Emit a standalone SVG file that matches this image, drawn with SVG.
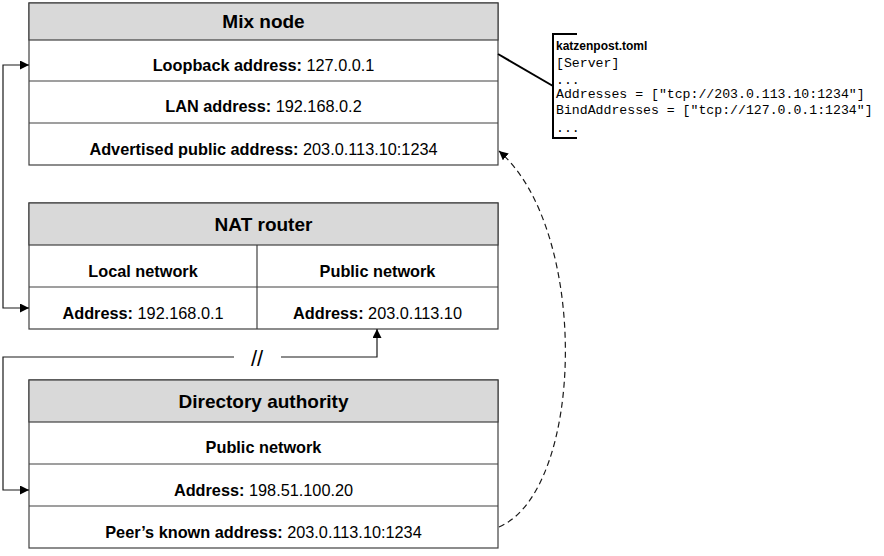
<svg xmlns="http://www.w3.org/2000/svg" width="884" height="556" viewBox="0 0 884 556">
<style>
.box{fill:#fff;stroke:#404040;stroke-width:1.2}
.hdr{fill:#d9d9d9;stroke:#404040;stroke-width:1.2}
.sep{stroke:#404040;stroke-width:1.2}
.t{font-family:"Liberation Sans",Arial,sans-serif;font-size:16.3px;fill:#000;text-anchor:middle}
.b{font-weight:bold}
.h{font-family:"Liberation Sans",Arial,sans-serif;font-size:19px;font-weight:bold;fill:#000;text-anchor:middle}
.conn{fill:none;stroke:#1a1a1a;stroke-width:1.2}
.mono{font-family:"Liberation Mono","Courier New",monospace;font-size:13.2px;fill:#000}
</style>
<defs>
<marker id="arr" viewBox="0 0 10 10" refX="10" refY="5" markerWidth="9" markerHeight="9" markerUnits="userSpaceOnUse" orient="auto-start-reverse">
<path d="M0,0 L10,5 L0,10 z" fill="#000"/>
</marker>
</defs>

<g id="mix-node">
<rect class="box" x="29" y="3" width="469" height="162"/>
<rect class="hdr" x="29" y="3" width="469" height="37"/>
<line class="sep" x1="29" y1="81" x2="498" y2="81"/>
<line class="sep" x1="29" y1="123" x2="498" y2="123"/>
<text class="h" x="263.5" y="28">Mix node</text>
<text class="t" x="263.5" y="71"><tspan class="b">Loopback address:</tspan> 127.0.0.1</text>
<text class="t" x="263.5" y="112"><tspan class="b">LAN address:</tspan> 192.168.0.2</text>
<text class="t" x="263.5" y="155"><tspan class="b">Advertised public address:</tspan> 203.0.113.10:1234</text>
</g>

<g id="nat-router">
<rect class="box" x="29" y="203" width="469" height="126"/>
<rect class="hdr" x="29" y="203" width="469" height="42"/>
<line class="sep" x1="29" y1="287" x2="498" y2="287"/>
<line class="sep" x1="257" y1="245" x2="257" y2="329"/>
<text class="h" x="263.5" y="231">NAT router</text>
<text class="t b" x="143" y="277">Local network</text>
<text class="t b" x="377.5" y="277">Public network</text>
<text class="t" x="143" y="319"><tspan class="b">Address:</tspan> 192.168.0.1</text>
<text class="t" x="377.5" y="319"><tspan class="b">Address:</tspan> 203.0.113.10</text>
</g>

<g id="directory-authority">
<rect class="box" x="29" y="380" width="469" height="168"/>
<rect class="hdr" x="29" y="380" width="469" height="42"/>
<line class="sep" x1="29" y1="464" x2="498" y2="464"/>
<line class="sep" x1="29" y1="506" x2="498" y2="506"/>
<text class="h" x="263.5" y="408">Directory authority</text>
<text class="t b" x="263.5" y="453">Public network</text>
<text class="t" x="263.5" y="496"><tspan class="b">Address:</tspan> 198.51.100.20</text>
<text class="t" x="263.5" y="538"><tspan class="b">Peer’s known address:</tspan> 203.0.113.10:1234</text>
</g>

<g id="katzenpost-toml">
<path d="M577,34 H553 V138 H577" fill="none" stroke="#000" stroke-width="2"/>
<text x="556" y="50" font-family="Liberation Sans,Arial,sans-serif" font-size="12px" font-weight="bold">katzenpost.toml</text>
<text class="mono" x="556" y="67">[Server]</text>
<text class="mono" x="556" y="84">...</text>
<text class="mono" x="556" y="98">Addresses = ["tcp://203.0.113.10:1234"]</text>
<text class="mono" x="556" y="114">BindAddresses = ["tcp://127.0.0.1:1234"]</text>
<text class="mono" x="556" y="132">...</text>
</g>

<g id="connectors">
<path class="conn" d="M29,65 H3 V308 H29" marker-start="url(#arr)" marker-end="url(#arr)"/>
<path class="conn" d="M29,490 H3 V357 H377 V329" marker-start="url(#arr)" marker-end="url(#arr)"/>
<rect x="234" y="336" width="47" height="43" fill="#fff"/>
<text x="257" y="366" style="font-family:'Liberation Sans',Arial,sans-serif;font-size:22px;text-anchor:middle">//</text>
<path class="conn" d="M499,527 C585,490 590,230 499,151" stroke-dasharray="6,4" marker-end="url(#arr)"/>
<path d="M498,54 L553,86" fill="none" stroke="#000" stroke-width="2"/>
</g>
</svg>
